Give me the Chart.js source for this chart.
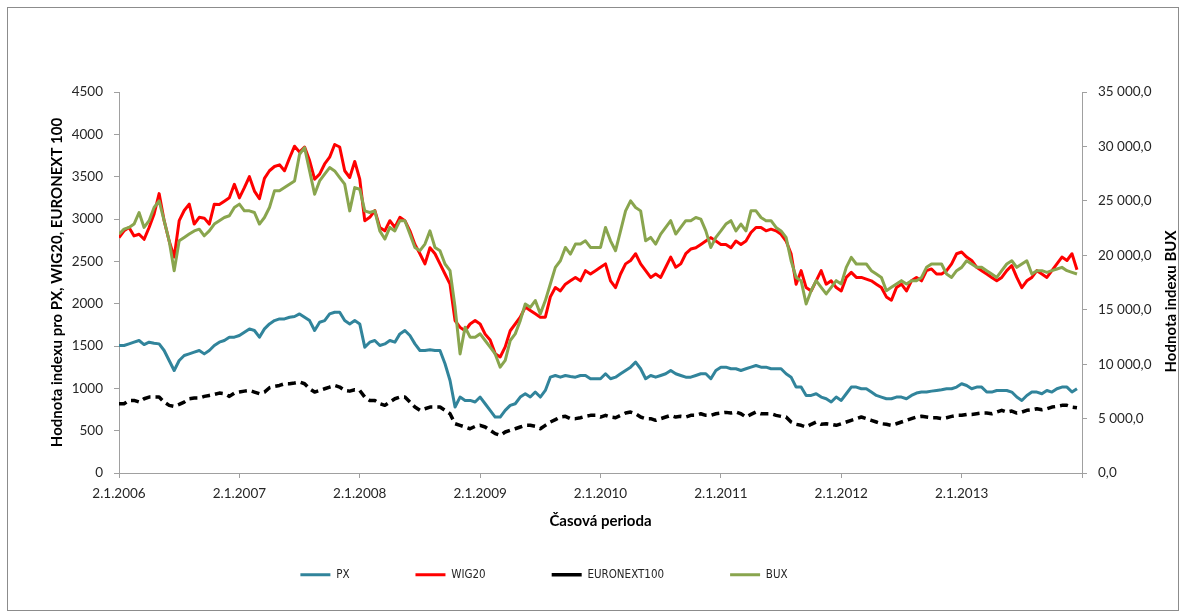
<!DOCTYPE html>
<html>
<head>
<meta charset="utf-8">
<script src="https://cdn.jsdelivr.net/npm/chart.js@4.4.1/dist/chart.umd.min.js"></script>
<style>
  body { margin: 0; background: #fff; }
  #frame { position: absolute; left: 7px; top: 7px; width: 1170px; height: 602px; border: 1px solid #8c8c8c; }
  #chart { position: absolute; left: 0; top: 0; }
</style>
</head>
<body>
<div id="frame"></div>
<canvas id="chart" width="1185" height="616"></canvas>
<script>
// half-month sampling, 24 points per year, 2006 - 2013
const periods = [];
for (let yr = 2006; yr < 2014; yr++) {
    for (let h = 0; h < 24; h++) periods.push(yr + h / 24);
}
const yearTicks = [2006, 2007, 2008, 2009, 2010, 2011, 2012, 2013];

const px = [
    1506, 1506, 1525, 1545, 1565, 1517, 1545, 1533, 1525, 1447, 1329, 1211, 1329, 1388, 1407, 1427, 1447, 1407, 1447, 1506, 1545, 1565, 1604, 1604, // 2006
    1624, 1663, 1702, 1683, 1604, 1702, 1761, 1800, 1820, 1820, 1840, 1848, 1879, 1840, 1800, 1683, 1781, 1800, 1879, 1899, 1899, 1800, 1761, 1800, // 2007
    1761, 1486, 1545, 1565, 1506, 1525, 1565, 1545, 1643, 1683, 1624, 1525, 1447, 1447, 1455, 1447, 1447, 1290, 1093, 779, 897, 857, 857, 838,      // 2008
    897, 818, 740, 661, 661, 740, 799, 818, 897, 936, 897, 956, 897, 975, 1132, 1152, 1132, 1152, 1140, 1132, 1152, 1152, 1113, 1113,               // 2009
    1113, 1172, 1113, 1132, 1172, 1211, 1250, 1309, 1231, 1113, 1152, 1132, 1152, 1172, 1211, 1172, 1152, 1132, 1132, 1152, 1172, 1172, 1113, 1211, // 2010
    1250, 1250, 1231, 1231, 1211, 1231, 1250, 1270, 1250, 1250, 1231, 1231, 1231, 1172, 1132, 1015, 1015, 916, 916, 936, 897, 877, 838, 897,        // 2011
    857, 936, 1015, 1015, 995, 995, 956, 916, 897, 877, 877, 897, 897, 877, 916, 944, 956, 956, 967, 975, 983, 995, 995, 1015,                      // 2012
    1054, 1034, 995, 1015, 1015, 956, 956, 975, 975, 975, 956, 897, 857, 916, 956, 956, 936, 975, 956, 995, 1015, 1015, 956, 995                    // 2013
];

const wig20 = [
    2780, 2860, 2900, 2800, 2820, 2760, 2900, 3060, 3300, 2980, 2740, 2550, 2980, 3100, 3175, 2940, 3020, 3010, 2940, 3175, 3170, 3210, 3250, 3410, // 2006
    3250, 3370, 3500, 3330, 3240, 3480, 3570, 3620, 3640, 3570, 3720, 3860, 3790, 3850, 3690, 3470, 3530, 3650, 3730, 3880, 3850, 3570, 3490, 3680, // 2007
    3470, 2980, 3020, 3100, 2900, 2860, 2980, 2900, 3020, 2980, 2860, 2700, 2590, 2470, 2660, 2590, 2470, 2350, 2230, 1800, 1720, 1680, 1760, 1800, // 2008
    1760, 1640, 1570, 1410, 1370, 1490, 1680, 1760, 1840, 1960, 1920, 1880, 1840, 1840, 2080, 2190, 2150, 2230, 2270, 2310, 2270, 2390, 2350, 2390, // 2009
    2430, 2470, 2270, 2190, 2350, 2470, 2510, 2590, 2470, 2390, 2310, 2350, 2310, 2430, 2550, 2430, 2470, 2590, 2645, 2660, 2700, 2740, 2780, 2740, // 2010
    2700, 2700, 2660, 2740, 2700, 2740, 2840, 2900, 2900, 2860, 2880, 2860, 2820, 2740, 2590, 2230, 2390, 2190, 2150, 2270, 2390, 2230, 2270, 2190, // 2011
    2150, 2310, 2370, 2310, 2310, 2290, 2270, 2230, 2190, 2080, 2040, 2190, 2230, 2150, 2270, 2310, 2270, 2390, 2410, 2350, 2350, 2390, 2470, 2590, // 2012
    2610, 2550, 2510, 2430, 2390, 2350, 2310, 2270, 2310, 2390, 2450, 2310, 2190, 2270, 2310, 2390, 2350, 2310, 2390, 2470, 2550, 2510, 2590, 2400  // 2013
];

const euronext100 = [
    818, 818, 857, 857, 838, 877, 897, 897, 897, 838, 799, 787, 810, 838, 877, 885, 885, 905, 916, 928, 944, 936, 905, 944,             // 2006
    956, 967, 975, 956, 936, 956, 1007, 1023, 1034, 1054, 1054, 1062, 1074, 1054, 995, 956, 975, 995, 1015, 1034, 1015, 975, 967, 983, // 2007
    975, 897, 857, 857, 818, 799, 838, 877, 897, 897, 838, 779, 740, 759, 779, 779, 779, 740, 700, 582, 563, 543, 523, 551,             // 2008
    563, 543, 504, 465, 445, 484, 504, 523, 543, 563, 563, 551, 523, 563, 602, 630, 661, 669, 642, 642, 653, 669, 681, 681,             // 2009
    661, 681, 661, 653, 681, 708, 720, 700, 661, 642, 642, 622, 642, 661, 681, 661, 669, 661, 681, 681, 700, 681, 681, 700,             // 2010
    708, 716, 708, 720, 700, 661, 692, 720, 700, 700, 700, 681, 669, 661, 602, 575, 563, 543, 575, 602, 575, 582, 575, 563,             // 2011
    582, 602, 622, 642, 661, 642, 622, 602, 582, 575, 563, 582, 602, 622, 642, 661, 669, 661, 653, 653, 642, 653, 669, 681,             // 2012
    681, 692, 692, 700, 708, 708, 700, 720, 740, 720, 732, 708, 720, 740, 747, 759, 747, 759, 779, 787, 799, 799, 779, 771              // 2013
];

const bux = [
    21950, 22400, 22560, 22870, 23930, 22560, 23180, 24390, 25000, 23180, 21330, 18580, 21330, 21640, 21950, 22240, 22400, 21790, 22240, 22870, 23180, 23470, 23630, 24390, // 2006
    24700, 24080, 24080, 23930, 22870, 23470, 24390, 25920, 25920, 26220, 26530, 26830, 29280, 29890, 27750, 25610, 26830, 27450, 28060, 27750, 27140, 26530, 24080, 26220, // 2007
    26070, 24080, 23930, 24080, 22240, 21490, 22560, 22240, 23180, 23180, 21950, 20720, 20420, 21030, 22240, 20720, 20420, 19200, 18590, 15220, 10940, 13390, 12480, 12480, // 2008
    12780, 12170, 11560, 10940, 9720, 10340, 12170, 12780, 14000, 15530, 15220, 15840, 14620, 15840, 17360, 18890, 19500, 20720, 20110, 21030, 21030, 21330, 20720, 20720,  // 2009
    20720, 22560, 21330, 20420, 22240, 24080, 25000, 24390, 24080, 21330, 21640, 21030, 21950, 22560, 23180, 21950, 22560, 23180, 23180, 23470, 23320, 22240, 20720, 21640, // 2010
    22240, 22870, 23180, 22240, 22870, 22240, 24080, 24080, 23470, 23180, 23180, 22560, 22240, 21640, 19500, 17970, 17670, 15530, 16750, 17670, 17060, 16450, 17060, 17670, // 2011
    17360, 18890, 19810, 19200, 19200, 19200, 18590, 18280, 17970, 16750, 17060, 17360, 17670, 17360, 17670, 17670, 17970, 18890, 19200, 19200, 19200, 18280, 17970, 18590, // 2012
    18890, 19500, 19200, 18890, 18890, 18590, 18280, 17970, 18590, 19200, 19500, 18890, 19200, 19500, 18280, 18590, 18590, 18430, 18590, 18740, 18890, 18590, 18430, 18280  // 2013
];

const leftTicks = [0, 500, 1000, 1500, 2000, 2500, 3000, 3500, 4000, 4500];
const rightTicks = [0, 5000, 10000, 15000, 20000, 25000, 30000, 35000];

const tickFont = { family: 'Lato', size: 13.5 };
const titleFont = { family: 'Lato', size: 15, weight: 'bold' };
const axisColor = '#a0a0a0';
const textColor = '#262626';

function toPoints(values) {
    return values.map((v, i) => ({ x: periods[i], y: v }));
}

function czNumber(v) {
    const s = Math.round(v).toString().replace(/\B(?=(\d{3})+(?!\d))/g, ' ');
    return s + ',0';
}

// Excel keeps the legend left of centre and the BUX title reads upwards
const legendNudge = {
    id: 'legendNudge',
    afterLayout(chart) {
        const lg = chart.legend;
        lg.left -= 70; lg.right -= 70;
        lg.top -= 27;
        lg.bottom = chart.height; // legend clips to its box, keep the text inside
    }
};

const rightTitle = {
    id: 'rightTitle',
    afterDraw(chart) {
        const { ctx, chartArea } = chart;
        const s = chart.scales.y1;
        ctx.save();
        ctx.translate(s.right - 9, (chartArea.top + chartArea.bottom) / 2 + 19);
        ctx.rotate(-Math.PI / 2);
        ctx.font = 'bold 15px Lato';
        ctx.fillStyle = '#000';
        ctx.textAlign = 'center';
        ctx.textBaseline = 'middle';
        ctx.fillText('Hodnota indexu BUX', 0, 0);
        ctx.restore();
    }
};

new Chart(document.getElementById('chart'), {
    type: 'line',
    data: {
        datasets: [
            { label: 'PX', data: toPoints(px), borderColor: '#31849B', backgroundColor: '#31849B', borderWidth: 3, yAxisID: 'y', order: 1 },
            { label: 'WIG20', data: toPoints(wig20), borderColor: '#FF0000', backgroundColor: '#FF0000', borderWidth: 3, yAxisID: 'y', order: 1 },
            { label: 'EURONEXT100', data: toPoints(euronext100), borderColor: '#000000', backgroundColor: '#000000', borderWidth: 3.5, borderDash: [8, 5], yAxisID: 'y', order: 1 },
            { label: 'BUX', data: toPoints(bux), borderColor: '#89A54E', backgroundColor: '#89A54E', borderWidth: 3, yAxisID: 'y1', order: 0 }
        ]
    },
    options: {
        responsive: false,
        animation: false,
        events: [],
        elements: { point: { radius: 0 }, line: { tension: 0, borderJoinStyle: 'round' } },
        layout: { padding: { left: 48, right: 5, top: 92, bottom: 56 } },
        plugins: {
            tooltip: { enabled: false },
            legend: {
                position: 'bottom',
                maxHeight: 30,
                labels: {
                    usePointStyle: true,
                    pointStyle: 'line',
                    pointStyleWidth: 30,
                    padding: 66,
                    color: textColor,
                    font: { family: "'Liberation Sans Narrow', 'DejaVu Sans Condensed', sans-serif", size: 11.5 },
                    sort: (a, b) => a.datasetIndex - b.datasetIndex,
                    generateLabels: chart => Chart.defaults.plugins.legend.labels.generateLabels(chart)
                        .map(l => (l.lineDash && l.lineDash.length ? Object.assign(l, { lineDash: [10, 8] }) : l))
                }
            }
        },
        scales: {
            x: {
                type: 'linear',
                min: 2006,
                max: 2014,
                afterBuildTicks: s => { s.ticks = yearTicks.concat([2014]).map(v => ({ value: v })); },
                ticks: {
                    autoSkip: false,
                    maxRotation: 0,
                    padding: 8,
                    font: tickFont,
                    color: textColor,
                    callback: v => (yearTicks.includes(v) ? '2.1.' + v : '')
                },
                grid: { drawOnChartArea: false, tickLength: 5, color: axisColor },
                border: { color: axisColor },
                title: { display: true, text: 'Časová perioda', font: titleFont, color: '#000', padding: { top: 0, bottom: 0 } },
                afterFit: s => { s.height = 57; }
            },
            y: {
                position: 'left',
                min: 0,
                max: 4500,
                afterBuildTicks: s => { s.ticks = leftTicks.map(v => ({ value: v })); },
                ticks: { padding: 11, font: tickFont, color: textColor, callback: v => String(v) },
                grid: { drawOnChartArea: false, tickLength: 5, color: axisColor },
                border: { color: axisColor },
                title: { display: true, text: 'Hodnota indexu pro PX, WIG20, EURONEXT 100', font: titleFont, color: '#000', padding: { top: 0, bottom: 0 } },
                afterFit: s => { s.width = 71; }
            },
            y1: {
                position: 'right',
                min: 0,
                max: 35000,
                afterBuildTicks: s => { s.ticks = rightTicks.map(v => ({ value: v })); },
                ticks: { padding: 11, font: tickFont, color: textColor, callback: v => czNumber(v) },
                grid: { drawOnChartArea: false, tickLength: 5, color: axisColor },
                border: { color: axisColor },
                afterFit: s => { s.width = 98; }
            }
        }
    },
    plugins: [legendNudge, rightTitle]
});
</script>
</body>
</html>
